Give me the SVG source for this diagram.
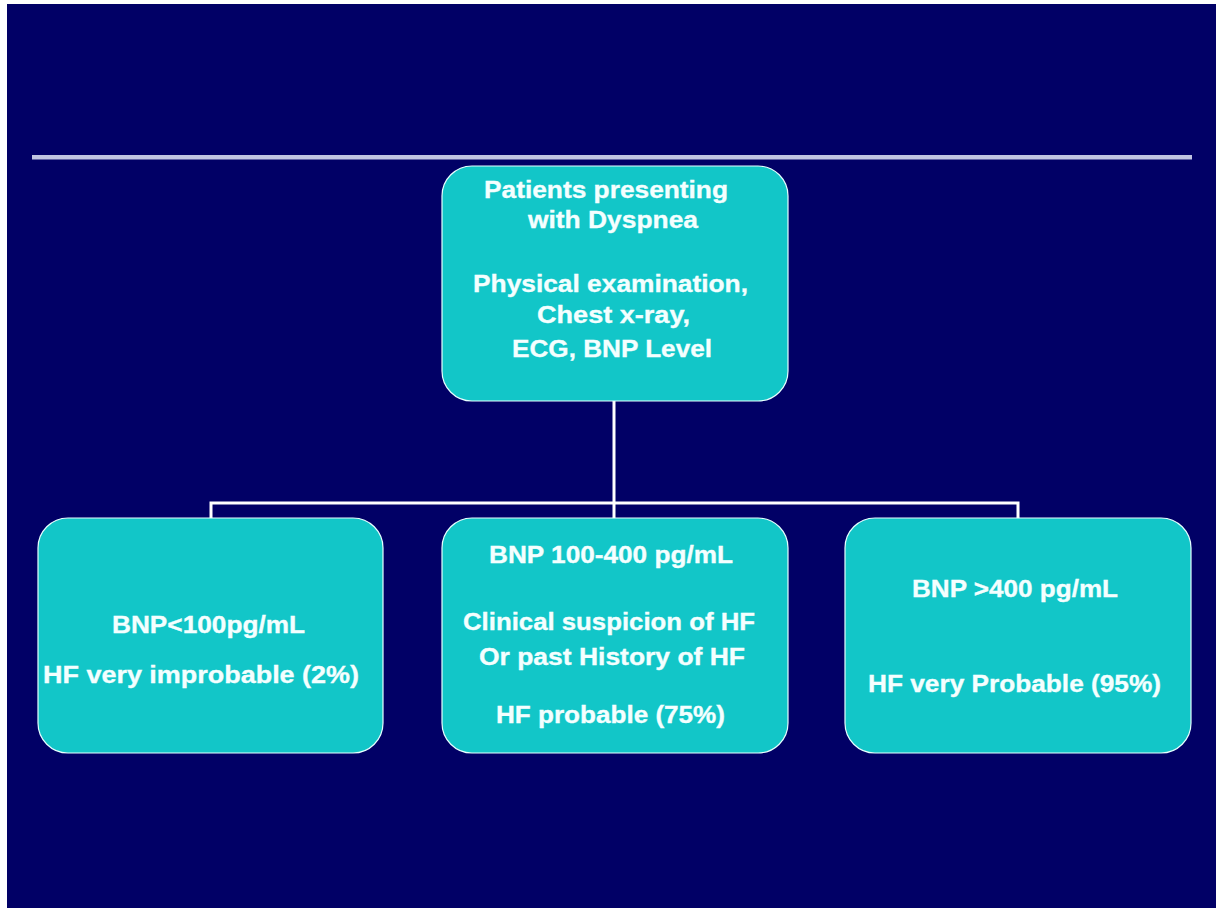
<svg xmlns="http://www.w3.org/2000/svg" width="1216" height="908" viewBox="0 0 1216 908">
<style>
.box{fill:#12C6C8;stroke:#E6FFFF;stroke-width:1.2}
.t{font-family:"Liberation Sans",Arial,sans-serif;font-weight:bold;font-size:24px;fill:#F4FFFF;stroke:#F4FFFF;stroke-width:0.35}
.c{fill:none;stroke:#FFFFFF;stroke-width:3}
</style>
<rect x="0" y="0" width="1216" height="908" fill="#FFFFFF"/>
<rect x="7" y="4" width="1209" height="904" fill="#010066"/>
<rect x="32" y="155" width="1160" height="4.5" fill="#C0C4E2"/>
<g id="connectors">
<path class="c" d="M614 401 V518"/>
<path class="c" d="M211 518 V503 H1018 V518"/>
</g>
<g id="n-top">
<rect class="box" x="442" y="166" width="346" height="235" rx="30"/>
<text class="t" x="484" y="198" textLength="244" lengthAdjust="spacingAndGlyphs">Patients presenting</text>
<text class="t" x="528" y="228" textLength="170" lengthAdjust="spacingAndGlyphs">with Dyspnea</text>
<text class="t" x="473" y="292" textLength="275" lengthAdjust="spacingAndGlyphs">Physical examination,</text>
<text class="t" x="537" y="323" textLength="153" lengthAdjust="spacingAndGlyphs">Chest x-ray,</text>
<text class="t" x="512" y="357" textLength="200" lengthAdjust="spacingAndGlyphs">ECG, BNP Level</text>
</g>
<g id="n-left">
<rect class="box" x="38" y="518" width="345" height="235" rx="30"/>
<text class="t" x="112" y="633" textLength="193" lengthAdjust="spacingAndGlyphs">BNP&lt;100pg/mL</text>
<text class="t" x="43" y="683" textLength="316" lengthAdjust="spacingAndGlyphs">HF very improbable (2%)</text>
</g>
<g id="n-mid">
<rect class="box" x="442" y="518" width="346" height="235" rx="30"/>
<text class="t" x="489" y="563" textLength="244" lengthAdjust="spacingAndGlyphs">BNP 100-400 pg/mL</text>
<text class="t" x="463" y="630" textLength="292" lengthAdjust="spacingAndGlyphs">Clinical suspicion of HF</text>
<text class="t" x="479" y="665" textLength="266" lengthAdjust="spacingAndGlyphs">Or past History of HF</text>
<text class="t" x="496" y="723" textLength="229" lengthAdjust="spacingAndGlyphs">HF probable (75%)</text>
</g>
<g id="n-right">
<rect class="box" x="845" y="518" width="346" height="235" rx="30"/>
<text class="t" x="912" y="597" textLength="206" lengthAdjust="spacingAndGlyphs">BNP &gt;400 pg/mL</text>
<text class="t" x="868" y="692" textLength="293" lengthAdjust="spacingAndGlyphs">HF very Probable (95%)</text>
</g>
</svg>
